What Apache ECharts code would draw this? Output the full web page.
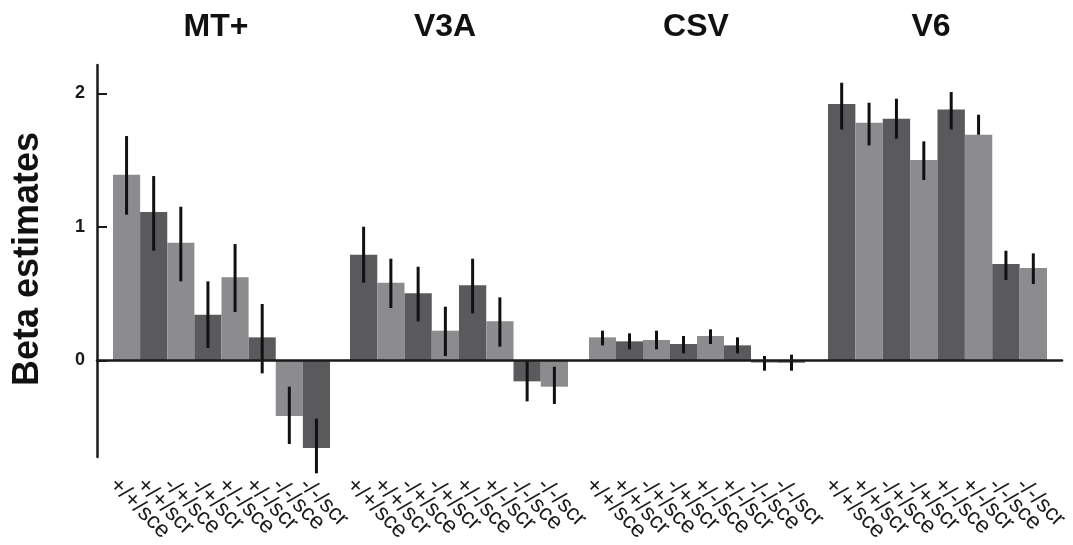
<!DOCTYPE html>
<html>
<head>
<meta charset="utf-8">
<script src="https://cdn.jsdelivr.net/npm/echarts@6/dist/echarts.min.js"></script>
<style>
html,body{margin:0;padding:0;background:#fff;}
#chart{width:1073px;height:545px;}
</style>
</head>
<body>
<div id="chart"></div>
<script>
// ---- data ----
const regions = ['MT+', 'V3A', 'CSV', 'V6'];
const conditions = ['+/+/sce', '+/+/scr', '-/+/sce', '-/+/scr', '+/-/sce', '+/-/scr', '-/-/sce', '-/-/scr'];
const yTicks = [0, 1, 2];
const yTitle = 'Beta estimates';

const mtBeta = [1.39, 1.11, 0.88, 0.34, 0.62, 0.17, -0.42, -0.66];
const mtErr = [[1.09, 1.68], [0.82, 1.38], [0.59, 1.15], [0.09, 0.59], [0.36, 0.87], [-0.10, 0.42], [-0.63, -0.20], [-0.85, -0.44]];
const v3aBeta = [0.79, 0.58, 0.50, 0.22, 0.56, 0.29, -0.16, -0.20];
const v3aErr = [[0.58, 1.00], [0.39, 0.76], [0.29, 0.70], [0.03, 0.40], [0.35, 0.76], [0.10, 0.47], [-0.31, -0.01], [-0.33, -0.05]];
const csvBeta = [0.17, 0.14, 0.15, 0.12, 0.18, 0.11, -0.02, -0.02];
const csvErr = [[0.11, 0.22], [0.08, 0.20], [0.08, 0.22], [0.05, 0.18], [0.12, 0.23], [0.05, 0.17], [-0.08, 0.03], [-0.08, 0.04]];
const v6Beta = [1.92, 1.78, 1.81, 1.50, 1.88, 1.69, 0.72, 0.69];
const v6Err = [[1.73, 2.08], [1.61, 1.93], [1.66, 1.96], [1.35, 1.64], [1.73, 2.01], [1.69, 1.84], [0.60, 0.82], [0.57, 0.80]];

// ---- styles / layout ----
const LIGHT = '#8c8b8d', DARK = '#5a595b';
const groupBeta = [mtBeta, v3aBeta, csvBeta, v6Beta];
const groupErr = [mtErr, v3aErr, csvErr, v6Err];
const startDark = [false, true, false, true];
const gridLefts = [113, 350, 589, 828];
const gridWidths = [217, 218, 216, 219];
const titleX = [216, 445, 696, 931];
const TOP = 65, HEIGHT = 392;
const YMIN = -0.723, YMAX = 2.213;

const grids = [{left: 97, right: 11, top: TOP, height: HEIGHT}];
const xAxes = [{
  gridIndex: 0, type: 'category', data: [''], z: 10,
  axisLine: {onZero: true, lineStyle: {color: '#1a1a1a', width: 2.5}},
  axisTick: {show: false}, axisLabel: {show: false}
}];
const yAxes = [{
  gridIndex: 0, type: 'value', min: YMIN, max: YMAX,
  splitLine: {show: false},
  axisLine: {show: true, lineStyle: {color: '#1a1a1a', width: 2.5}},
  axisTick: {show: true, inside: true, length: 10, lineStyle: {color: '#1a1a1a', width: 2}, customValues: yTicks},
  axisLabel: {customValues: yTicks, fontFamily: 'Liberation Sans, Arial, sans-serif', fontWeight: 'bold', fontSize: 18, color: '#1a1a1a', margin: 12}
}];
const series = [];

regions.forEach((r, g) => {
  const gi = g + 1;
  grids.push({left: gridLefts[g], width: gridWidths[g], top: TOP, height: HEIGHT});
  // bar axis
  xAxes.push({
    gridIndex: gi, type: 'category', data: conditions, boundaryGap: true,
    axisLine: {show: false}, axisTick: {show: false}, axisLabel: {show: false}
  });
  // label axis (labels start at bar left edges)
  xAxes.push({
    gridIndex: gi, type: 'category', data: conditions.concat(['']), boundaryGap: false, position: 'bottom',
    axisLine: {show: false, onZero: false}, axisTick: {show: false},
    axisLabel: {show: true, interval: 0, rotate: -45, margin: 25, fontSize: 23,
      fontFamily: 'Liberation Sans, Arial, sans-serif', color: '#1a1a1a'}
  });
  yAxes.push({gridIndex: gi, type: 'value', min: YMIN, max: YMAX, show: false});
  const xIdx = 1 + g * 2;
  series.push({
    type: 'bar', xAxisIndex: xIdx, yAxisIndex: gi,
    barWidth: '100%', barCategoryGap: '0%',
    data: groupBeta[g].map((v, i) => ({
      value: v,
      itemStyle: {color: ((i % 2 === 0) !== startDark[g]) ? LIGHT : DARK}
    })),
    z: 2
  });
  series.push({
    type: 'custom', xAxisIndex: xIdx, yAxisIndex: gi, clip: false, z: 5,
    data: groupErr[g].map((e, i) => [i, e[0], e[1]]),
    renderItem: (params, api) => {
      const lo = api.coord([api.value(0), api.value(1)]);
      const hi = api.coord([api.value(0), api.value(2)]);
      return {type: 'line', shape: {x1: lo[0], y1: lo[1], x2: hi[0], y2: hi[1]},
        style: {stroke: '#111', lineWidth: 3}};
    }
  });
});

const graphics = regions.map((r, g) => ({
  type: 'text', x: titleX[g], y: 27,
  style: {text: r, align: 'center', verticalAlign: 'middle', fill: '#111',
    font: 'bold 32px "Liberation Sans", Arial, sans-serif'}
}));
graphics.push({
  type: 'text', x: 28, y: 259, rotation: Math.PI / 2,
  style: {text: yTitle, align: 'center', verticalAlign: 'middle', fill: '#111',
    font: 'bold 36px "Liberation Sans", Arial, sans-serif'}
});

const chart = echarts.init(document.getElementById('chart'), null, {renderer: 'canvas'});
chart.setOption({
  animation: false,
  backgroundColor: '#fff',
  grid: grids, xAxis: xAxes, yAxis: yAxes, series: series, graphic: graphics
});
</script>
</body>
</html>
